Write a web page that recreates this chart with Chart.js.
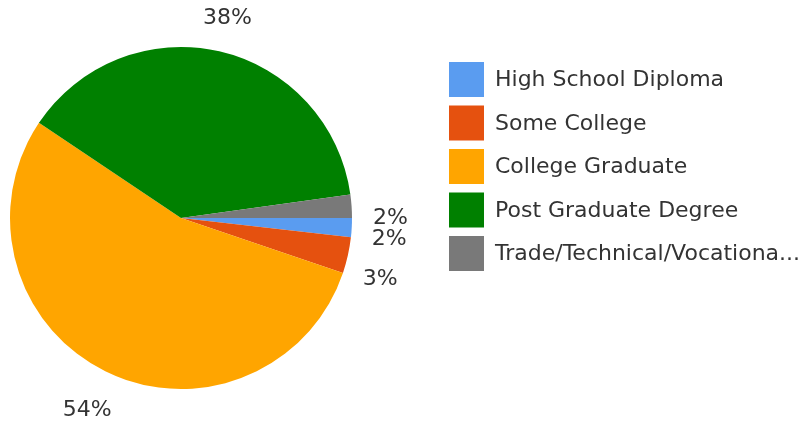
<!DOCTYPE html>
<html>
<head>
<meta charset="utf-8">
<script src="https://cdn.jsdelivr.net/npm/chart.js"></script>
<style>
  body { margin: 0; background: #fff; }
</style>
</head>
<body>
<canvas id="pie" width="810" height="430"></canvas>
<script>
// categories and their shares (percent)
const categories = [
    "High School Diploma",
    "Some College",
    "College Graduate",
    "Post Graduate Degree",
    "Trade/Technical/Vocational School"
];
const shares = [1.8, 3.4, 54.2, 38.4, 2.2];
const sliceColors = ["#5a9cf0", "#e5510f", "#ffa500", "#008000", "#797979"];

const fontFamily = "'DejaVu Sans', Verdana, sans-serif";
const textColor = "#333";

// percent labels outside the pie
const sliceLabels = {
    id: "sliceLabels",
    afterDatasetsDraw(chart) {
        const ctx = chart.ctx;
        const arcs = chart.getDatasetMeta(0).data;
        const total = shares.reduce((a, b) => a + b, 0);
        ctx.save();
        ctx.font = "22px " + fontFamily;
        ctx.fillStyle = textColor;
        ctx.textBaseline = "middle";
        arcs.forEach((arc, i) => {
            const frac = shares[i] / total;
            const pct = Math.round(frac * 100) + "%";
            const p = arc.getProps(["x", "y", "startAngle", "endAngle", "outerRadius"], true);
            const w = ctx.measureText(pct).width;
            if (frac < 0.05) {
                // thin slices: label sits next to the slice's closing edge
                const a = p.endAngle;
                const d = p.outerRadius + 21;
                const cos = Math.cos(a);
                ctx.textAlign = cos >= 0 ? "left" : "right";
                ctx.fillText(pct, p.x + d * cos, p.y + d * Math.sin(a));
            } else {
                const a = (p.startAngle + p.endAngle) / 2;
                const cos = Math.cos(a), sin = Math.sin(a);
                const d = p.outerRadius + 20 + (w / 2) * Math.abs(cos) + 11 * Math.abs(sin);
                ctx.textAlign = "center";
                ctx.fillText(pct, p.x + d * cos, p.y + d * sin + 2);
            }
        });
        ctx.restore();
    }
};

// legend on the right, drawn by hand so it can sit where the original has it
const sideLegend = {
    id: "sideLegend",
    afterDraw(chart) {
        const ctx = chart.ctx;
        const left = 449, top = 62, box = 35, step = 43.5, textX = 495;
        const maxW = 310;
        ctx.save();
        ctx.font = "22px " + fontFamily;
        ctx.textBaseline = "middle";
        ctx.textAlign = "left";
        categories.forEach((name, i) => {
            const y = top + i * step;
            ctx.fillStyle = sliceColors[i];
            ctx.fillRect(left, y, box, box);
            let txt = name;
            if (ctx.measureText(txt).width > maxW) {
                while (txt.length && ctx.measureText(txt + "...").width > maxW) {
                    txt = txt.slice(0, -1);
                }
                txt += "...";
            }
            ctx.fillStyle = textColor;
            ctx.fillText(txt, textX, y + box / 2 + 1);
        });
        ctx.restore();
    }
};

new Chart(document.getElementById("pie"), {
    type: "pie",
    data: {
        labels: categories,
        datasets: [{
            data: shares,
            backgroundColor: sliceColors,
            borderWidth: 0
        }]
    },
    options: {
        responsive: false,
        animation: false,
        events: [],
        rotation: 90,
        layout: {
            padding: { left: 10, right: 458, top: 47, bottom: 41 }
        },
        plugins: {
            legend: { display: false },
            tooltip: { enabled: false }
        }
    },
    plugins: [sliceLabels, sideLegend]
});
</script>
</body>
</html>
